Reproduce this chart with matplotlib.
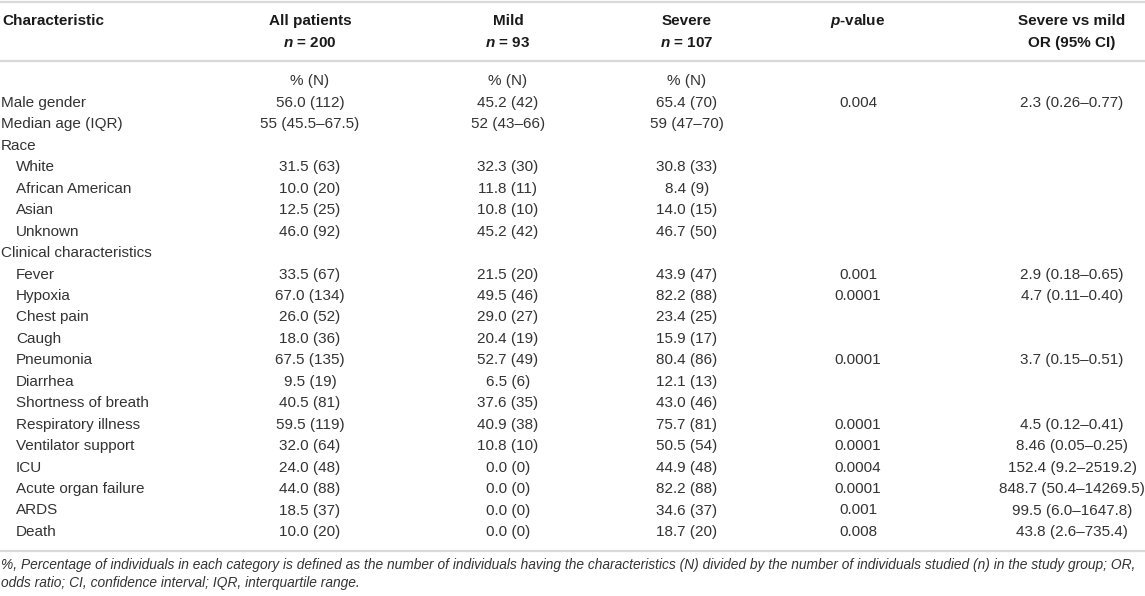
import matplotlib
matplotlib.use("Agg")
import matplotlib.pyplot as plt
from matplotlib import font_manager

plt.rcParams['font.family'] = ['Liberation Sans', 'DejaVu Sans']
plt.rcParams['mathtext.fontset'] = 'custom'
plt.rcParams['mathtext.it'] = 'Liberation Sans:italic:bold'
plt.rcParams['mathtext.rm'] = 'Liberation Sans:bold'

# table content
row_labels = ["", "Male gender", "Median age (IQR)", "Race", "White", "African American",
              "Asian", "Unknown", "Clinical characteristics", "Fever", "Hypoxia", "Chest pain",
              "Caugh", "Pneumonia", "Diarrhea", "Shortness of breath", "Respiratory illness",
              "Ventilator support", "ICU", "Acute organ failure", "ARDS", "Death"]
indented = [False, False, False, False, True, True, True, True, False, True, True, True,
            True, True, True, True, True, True, True, True, True, True]
all_patients = ["% (N)", "56.0 (112)", "55 (45.5–67.5)", "", "31.5 (63)", "10.0 (20)",
                "12.5 (25)", "46.0 (92)", "", "33.5 (67)", "67.0 (134)", "26.0 (52)",
                "18.0 (36)", "67.5 (135)", "9.5 (19)", "40.5 (81)", "59.5 (119)",
                "32.0 (64)", "24.0 (48)", "44.0 (88)", "18.5 (37)", "10.0 (20)"]
mild = ["% (N)", "45.2 (42)", "52 (43–66)", "", "32.3 (30)", "11.8 (11)",
        "10.8 (10)", "45.2 (42)", "", "21.5 (20)", "49.5 (46)", "29.0 (27)",
        "20.4 (19)", "52.7 (49)", "6.5 (6)", "37.6 (35)", "40.9 (38)",
        "10.8 (10)", "0.0 (0)", "0.0 (0)", "0.0 (0)", "0.0 (0)"]
severe = ["% (N)", "65.4 (70)", "59 (47–70)", "", "30.8 (33)", "8.4 (9)",
          "14.0 (15)", "46.7 (50)", "", "43.9 (47)", "82.2 (88)", "23.4 (25)",
          "15.9 (17)", "80.4 (86)", "12.1 (13)", "43.0 (46)", "75.7 (81)",
          "50.5 (54)", "44.9 (48)", "82.2 (88)", "34.6 (37)", "18.7 (20)"]
p_values = ["", "0.004", "", "", "", "", "", "", "", "0.001", "0.0001", "",
            "", "0.0001", "", "", "0.0001", "0.0001", "0.0004", "0.0001", "0.001", "0.008"]
odds_ratio = ["", "2.3 (0.26–0.77)", "", "", "", "", "", "", "", "2.9 (0.18–0.65)",
              "4.7 (0.11–0.40)", "", "", "3.7 (0.15–0.51)", "", "", "4.5 (0.12–0.41)",
              "8.46 (0.05–0.25)", "152.4 (9.2–2519.2)", "848.7 (50.4–14269.5)",
              "99.5 (6.0–1647.8)", "43.8 (2.6–735.4)"]

header_top = ["All patients", "Mild", "Severe", "$\\mathit{p}$-value", "Severe vs mild"]
header_bottom = ["$\\mathit{n}$ = 200", "$\\mathit{n}$ = 93", "$\\mathit{n}$ = 107", "", "OR (95% CI)"]

footnote = ["%, Percentage of individuals in each category is defined as the number of individuals "
            "having the characteristics (N) divided by the number of individuals studied (n) in the "
            "study group; OR,",
            "odds ratio; CI, confidence interval; IQR, interquartile range."]

W, H = 1145, 596
fig = plt.figure(figsize=(W / 100, H / 100), dpi=100)
ax = fig.add_axes([0, 0, 1, 1])
ax.set_xlim(0, W)
ax.set_ylim(H, 0)
ax.axis('off')

col_x = [310, 508, 687, 858, 1072]
body_color = '#333333'
head_color = '#1a1a1a'
fs = 11
line_color = '#d9d9d9'

# rules
for y in [1.5, 61, 551]:
    ax.plot([0, W], [y, y], color=line_color, lw=1.6, solid_capstyle='butt')

# header
ax.text(2, 21, "Characteristic", ha='left', va='center', fontsize=fs,
        fontweight='bold', color=head_color)
for x, t1, t2 in zip(col_x, header_top, header_bottom):
    ax.text(x, 21, t1, ha='center', va='center', fontsize=fs, fontweight='bold', color=head_color)
    if t2:
        ax.text(x, 43, t2, ha='center', va='center', fontsize=fs, fontweight='bold', color=head_color)

# body rows
y0, pitch = 81.5, 21.45
for i, lab in enumerate(row_labels):
    y = y0 + i * pitch
    ax.text(16 if indented[i] else 1, y, lab, ha='left', va='center', fontsize=fs, color=body_color)
    for x, col in zip(col_x, [all_patients, mild, severe, p_values, odds_ratio]):
        if col[i]:
            ax.text(x, y, col[i], ha='center', va='center', fontsize=fs, color=body_color)

# footnote, fitted to the table width
names = {f.name for f in font_manager.fontManager.ttflist}
foot_family = ['Liberation Sans Narrow'] if 'Liberation Sans Narrow' in names else ['Liberation Sans']
renderer = fig.canvas.get_renderer()
foot_texts = []
for k, (line, y) in enumerate(zip(footnote, [565, 583])):
    foot_texts.append(ax.text(1, y, line, ha='left', va='center', fontsize=fs, style='italic',
                              family=foot_family, color=body_color))
w0 = foot_texts[0].get_window_extent(renderer).width
scale = 1140 / w0
for t in foot_texts:
    t.set_fontsize(fs * scale)

fig.savefig("out.png", dpi=100, facecolor='white')
